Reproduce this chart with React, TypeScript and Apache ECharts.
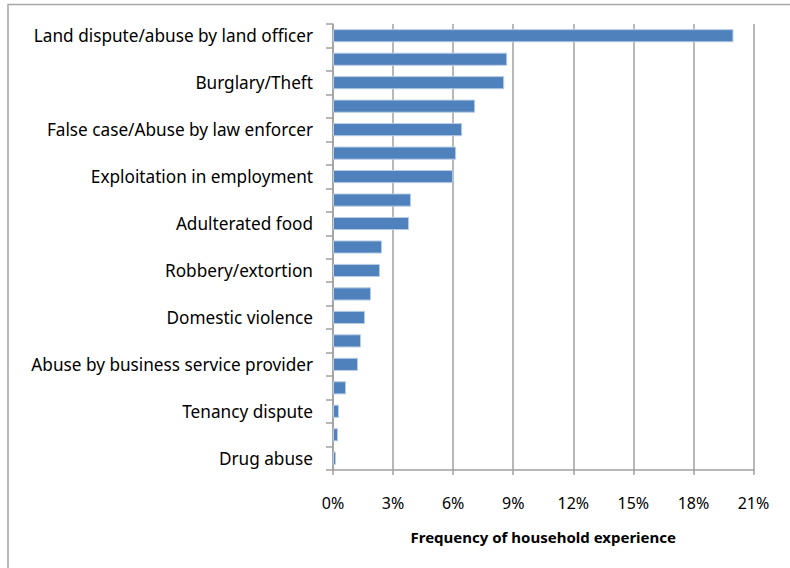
import React, { useEffect, useRef } from "react";
import * as echarts from "echarts";

const categories: string[] = [
  "Land dispute/abuse by land officer",
  "Unlabelled item 2",
  "Burglary/Theft",
  "Unlabelled item 4",
  "False case/Abuse by law enforcer",
  "Unlabelled item 6",
  "Exploitation in employment",
  "Unlabelled item 8",
  "Adulterated food",
  "Unlabelled item 10",
  "Robbery/extortion",
  "Unlabelled item 12",
  "Domestic violence",
  "Unlabelled item 14",
  "Abuse by business service provider",
  "Unlabelled item 16",
  "Tenancy dispute",
  "Unlabelled item 18",
  "Drug abuse",
];

const frequencies: number[] = [
  20.0, 8.7, 8.55, 7.1, 6.45, 6.15, 6.0, 3.9, 3.8, 2.45, 2.35, 1.9, 1.6, 1.4,
  1.25, 0.65, 0.3, 0.25, 0.15,
];

const xTicks = { min: 0, max: 21, interval: 3 };
const xAxisTitle = "Frequency of household experience";

export default function App() {
  const ref = useRef<HTMLDivElement>(null);
  useEffect(() => {
    if (!ref.current) return;
    const chart = echarts.init(ref.current, undefined, { renderer: "svg" });
    const font = "'Noto Sans', sans-serif";
    chart.setOption({
      animation: false,
      backgroundColor: "#ffffff",
      graphic: [
        {
          type: "polyline",
          silent: true,
          shape: { points: [[8, 600], [8, 4.5], [800, 4.5]] },
          style: { stroke: "#a6a6a6", lineWidth: 1.5, fill: "none" },
        },
      ],
      grid: { left: 333, right: 36.5, top: 24, bottom: 98, containLabel: false },
      xAxis: {
        type: "value",
        min: xTicks.min,
        max: xTicks.max,
        interval: xTicks.interval,
        name: xAxisTitle,
        nameLocation: "middle",
        nameGap: 59,
        nameTextStyle: {
          fontFamily: font,
          fontWeight: "bold",
          fontSize: 15,
          color: "#000",
        },
        axisLine: { show: true, lineStyle: { color: "#a0a0a0", width: 1.5 } },
        axisTick: { show: true, length: 5, lineStyle: { color: "#a0a0a0", width: 1.5 } },
        axisLabel: {
          formatter: (v: number) => `${v}%`,
          fontFamily: font,
          fontSize: 16,
          color: "#000",
          margin: 25,
        },
        splitLine: { show: true, lineStyle: { color: "#a0a0a0", width: 1.5 } },
      },
      yAxis: {
        type: "category",
        data: categories,
        inverse: true,
        axisLine: { show: true, lineStyle: { color: "#a0a0a0", width: 1.5 } },
        axisTick: {
          show: true,
          interval: 0,
          length: 7,
          lineStyle: { color: "#a0a0a0", width: 1.5 },
        },
        axisLabel: {
          interval: 1,
          fontFamily: font,
          fontSize: 17.2,
          color: "#000",
          margin: 20,
        },
        splitLine: { show: false },
      },
      series: [
        {
          type: "bar",
          data: frequencies,
          barCategoryGap: "44%",
          itemStyle: { color: "#4f81bd", borderColor: "#b9cde5", borderWidth: 1 },
        },
      ],
    });
    return () => chart.dispose();
  }, []);
  return (
    <div
      ref={ref}
      style={{ position: "fixed", left: 0, top: 0, width: 790, height: 568 }}
    />
  );
}
